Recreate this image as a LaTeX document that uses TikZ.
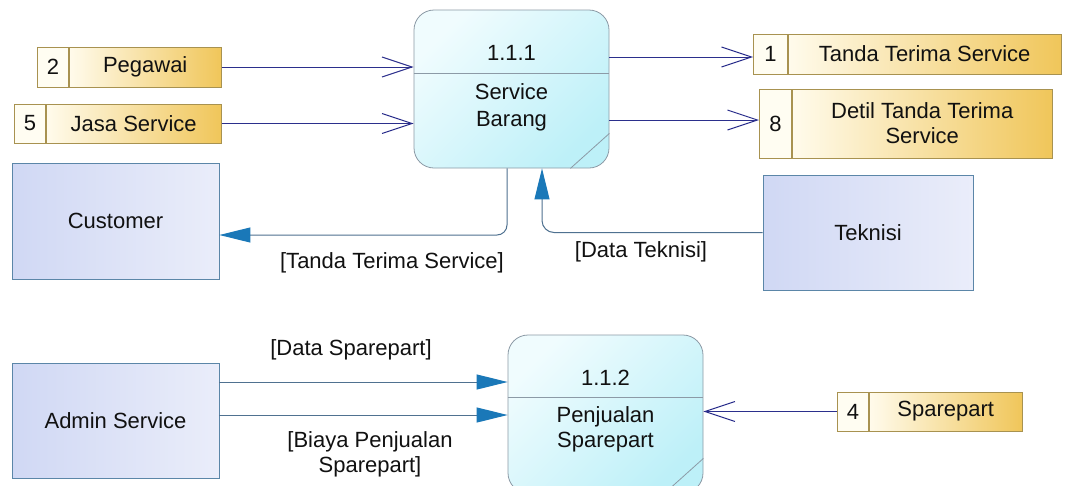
\documentclass[tikz,border=0pt]{standalone}
\usepackage{fontspec}
\setmainfont{Liberation Sans}
\usetikzlibrary{arrows.meta}
\definecolor{storeborder}{HTML}{A89250}
\definecolor{storenumfill}{HTML}{FFFDF2}
\definecolor{storelight}{HTML}{FFFBEC}
\definecolor{storegold}{HTML}{F0C65A}
\definecolor{procborder}{HTML}{8C9AA6}
\definecolor{proclight}{HTML}{F0FCFE}
\definecolor{proccyan}{HTML}{BDF0F8}
\definecolor{entborder}{HTML}{5B86A8}
\definecolor{entleft}{HTML}{D0D8F4}
\definecolor{entright}{HTML}{EAEDFA}
\definecolor{navy}{HTML}{2B2F8C}
\definecolor{flowline}{HTML}{4F7190}
\definecolor{tipblue}{HTML}{1A78B8}
\definecolor{textcol}{HTML}{111111}
\tikzset{
  storenum/.style={draw=storeborder, fill=storenumfill, anchor=west, line width=0.8pt},
  storename/.style={draw=storeborder, left color=storelight, right color=storegold, anchor=west, line width=0.8pt, align=center},
  process/.style={draw=procborder, rounded corners=20pt, shading=axis, top color=proclight, bottom color=proccyan, shading angle=45, minimum width=195pt, minimum height=158pt, line width=0.8pt},
  entity/.style={draw=entborder, left color=entleft, right color=entright, line width=0.8pt},
  openflow/.style={draw=navy, line width=1pt, -{Straight Barb[length=30pt,width=20pt,line width=1pt]}},
  flow/.style={draw=flowline, line width=1pt, -{Triangle[length=31pt,width=15pt,color=tipblue]}},
  divider/.style={draw=procborder, line width=0.8pt}
}
\begin{document}
\begin{tikzpicture}[x=1pt,y=-1pt, every node/.style={font=\fontsize{22}{25}\selectfont, text=textcol, inner sep=0pt}]
\useasboundingbox[fill=white] (0,0) rectangle (1065,485);

% helper coordinates
\coordinate (d1) at (0,73);
\coordinate (d2) at (0,397);
\coordinate (y57) at (0,57);
\coordinate (y120) at (0,120);
\coordinate (x507) at (507,0);
\coordinate (y235) at (0,235);
\coordinate (x542) at (542,0);
\coordinate (y382) at (0,382);
\coordinate (y415) at (0,415);

% processes
\node[process] (p1) at (511.5,89) {};
\node[process] (p2) at (605.5,414) {};
\draw[divider] (p1.west |- d1) -- (p1.east |- d1);
\draw[divider] (p2.west |- d2) -- (p2.east |- d2);
\draw[divider] ([xshift=-39pt]p1.south east) -- ([yshift=35pt]p1.south east);
\draw[divider] ([xshift=-39pt]p2.south east) -- ([yshift=35pt]p2.south east);
\node (p1id) at (511.5,53) {1.1.1};
\node[align=center, font=\fontsize{22}{27}\selectfont] (p1name) at (511.5,107) {Service\\Barang};
\node (p2id) at (605.5,378) {1.1.2};
\node[align=center] (p2name) at (605.5,429) {Penjualan\\Sparepart};

% data stores
\node[storenum, minimum width=31pt, minimum height=40pt] (s2n) at (37,67) {2};
\node[storename, minimum width=152pt, minimum height=40pt] (s2) at (s2n.east) {Pegawai};
\node[storenum, minimum width=31pt, minimum height=39pt] (s5n) at (14,123.5) {5};
\node[storename, minimum width=175pt, minimum height=39pt] (s5) at (s5n.east) {Jasa Service};
\node[storenum, minimum width=34pt, minimum height=40pt] (s1n) at (753,54) {1};
\node[storename, minimum width=273pt, minimum height=40pt] (s1) at (s1n.east) {Tanda Terima Service};
\node[storenum, minimum width=32pt, minimum height=69pt] (s8n) at (759,123.5) {8};
\node[storename, minimum width=260pt, minimum height=69pt] (s8) at (s8n.east) {Detil Tanda Terima\\Service};
\node[storenum, minimum width=31pt, minimum height=39pt] (s4n) at (837,411.5) {4};
\node[storename, minimum width=153pt, minimum height=39pt] (s4) at (s4n.east) {Sparepart};

% external entities
\node[entity, minimum width=207pt, minimum height=116pt] (cust) at (115.5,221) {Customer};
\node[entity, minimum width=210pt, minimum height=115pt] (tek) at (868,232.5) {Teknisi};
\node[entity, minimum width=207pt, minimum height=115pt] (adm) at (115.5,420.5) {Admin Service};

% flows with open heads
\draw[openflow] (s2.east) -- (s2.east -| p1.west);
\draw[openflow] (s5.east) -- (s5.east -| p1.west);
\draw[openflow] (p1.east |- y57) -- (s1n.west |- y57);
\draw[openflow] (p1.east |- y120) -- (s8n.west |- y120);
\draw[openflow] (s4n.west) -- (s4n.west -| p2.east);

% flows with filled heads
\draw[flow, rounded corners=10pt] (p1.south -| x507) |- (cust.east |- y235);
\draw[flow, rounded corners=12pt] (tek.west) -| (p1.south -| x542);
\draw[flow] (adm.east |- y382) -- (p2.west |- y382);
\draw[flow] (adm.east |- y415) -- (p2.west |- y415);

% labels
\node (l1) at (392,263) {[Tanda Terima Service]};
\node (l2) at (641,252) {[Data Teknisi]};
\node (l3) at (351,350) {[Data Sparepart]};
\node[align=center] (l4) at (370,454) {[Biaya Penjualan\\Sparepart]};
\end{tikzpicture}
\end{document}
